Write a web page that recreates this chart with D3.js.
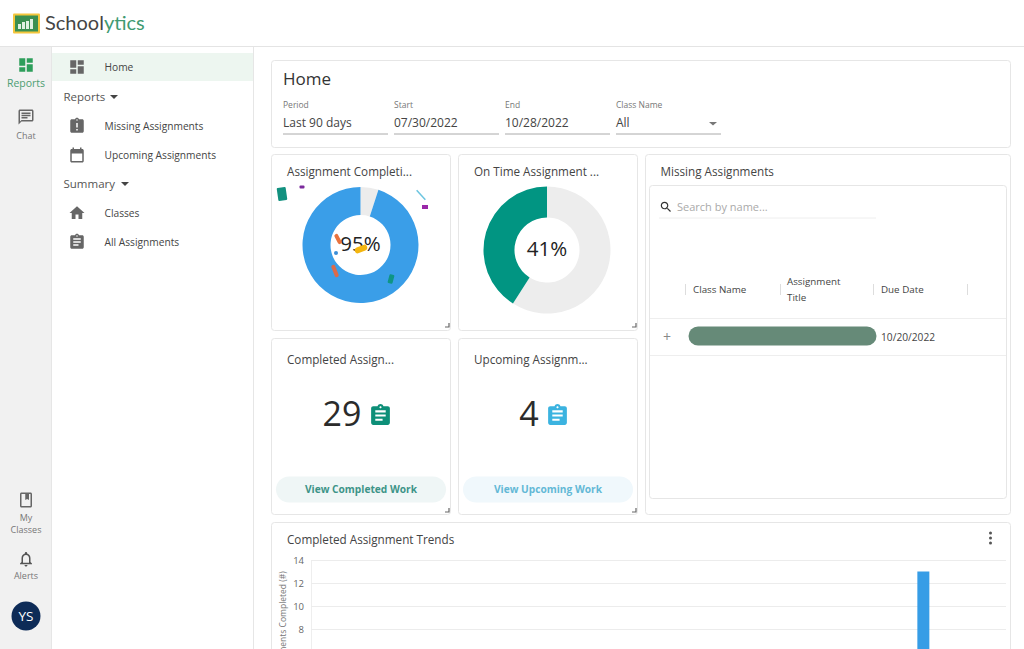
<!DOCTYPE html>
<html>
<head>
<meta charset="utf-8">
<script src="https://cdn.jsdelivr.net/npm/d3@7"></script>
<style>
  html, body { margin: 0; padding: 0; background: #fff; overflow: hidden; }
  svg { display: block; font-family: "Open Sans", "Noto Sans", sans-serif; }
</style>
</head>
<body>
<div id="chart"></div>
<script>
// Chart values
var completionLabels = ["Completed", "Not completed"];
var completionValues = [95, 5];
var onTimeLabels = ["Not on time", "On time"];
var onTimeValues = [59, 41];
var completedCount = 29;
var upcomingCount = 4;
var trendDates = ["2022-10-21"];
var trendValues = [13];
var trendTicks = [0, 2, 4, 6, 8, 10, 12, 14];

// Page text
var railTop = ["Reports", "Chat"];
var menuItems = ["Home", "Missing Assignments", "Upcoming Assignments", "Classes", "All Assignments"];
var menuHeads = ["Reports", "Summary"];
var filterLabels = ["Period", "Start", "End", "Class Name"];
var filterValues = ["Last 90 days", "07/30/2022", "10/28/2022", "All"];
var tableHeads = ["Class Name", "Due Date"];

var icons = {
  dash: "M3 3h8v10H3zM3 15h8v6H3zM13 11h8v10h-8zM13 3h8v6h-8z",
  chat: "M20 2H4c-1.1 0-2 .9-2 2v18l4-4h14c1.1 0 2-.9 2-2V4c0-1.1-.9-2-2-2zm0 14H6l-2 2V4h16v12zM6 12h8v2H6zm0-3h12v2H6zm0-3h12v2H6z",
  late: "M19 3h-4.18C14.4 1.84 13.3 1 12 1c-1.3 0-2.4.84-2.82 2H5c-1.1 0-2 .9-2 2v14c0 1.1.9 2 2 2h14c1.1 0 2-.9 2-2V5c0-1.1-.9-2-2-2zm-6 15h-2v-2h2v2zm0-4h-2V8h2v6zm-1-9c-.55 0-1-.45-1-1s.45-1 1-1 1 .45 1 1-.45 1-1 1z",
  cal: "M19 4h-1V2h-2v2H8V2H6v2H5c-1.11 0-2 .9-2 2v14c0 1.1.89 2 2 2h14c1.1 0 2-.9 2-2V6c0-1.1-.9-2-2-2zm0 16H5V10h14v10z",
  home: "M10 20v-6h4v6h5v-8h3L12 3 2 12h3v8z",
  clip: "M19 3h-4.18C14.4 1.84 13.3 1 12 1c-1.3 0-2.4.84-2.82 2H5c-1.1 0-2 .9-2 2v14c0 1.1.9 2 2 2h14c1.1 0 2-.9 2-2V5c0-1.1-.9-2-2-2zm-7 0c.55 0 1 .45 1 1s-.45 1-1 1-1-.45-1-1 .45-1 1-1zm2 14H7v-2h7v2zm3-4H7v-2h10v2zm0-4H7V7h10v2z",
  bell: "M12 22c1.1 0 2-.9 2-2h-4c0 1.1.89 2 2 2zm6-6v-5c0-3.07-1.64-5.64-4.5-6.32V4c0-.83-.67-1.5-1.5-1.5s-1.5.67-1.5 1.5v.68C7.63 5.36 6 7.92 6 11v5l-2 2v1h16v-1l-2-2zm-2 1H8v-6c0-2.48 1.51-4.5 4-4.5s4 2.02 4 4.5v6z",
  book: "M6 2h12c1.1 0 2 .9 2 2v16c0 1.1-.9 2-2 2H6c-1.1 0-2-.9-2-2V4c0-1.1.9-2 2-2zm0 2v16h12V4h-2v8l-2.5-1.5L11 12V4H6z",
  search: "M15.5 14h-.79l-.28-.27C15.41 12.59 16 11.11 16 9.5 16 5.91 13.09 3 9.5 3S3 5.91 3 9.5 5.91 16 9.5 16c1.61 0 3.09-.59 4.23-1.57l.27.28v.79l5 4.99L20.49 19l-4.99-5zm-6 0C7.01 14 5 11.99 5 9.5S7.01 5 9.5 5 14 7.01 14 9.5 11.99 14 9.5 14z"
};

var svg = d3.select("#chart")
  .append("svg")
  .attr("width", 1024)
  .attr("height", 649);

function label(x, y, str, size, fill, anchor, weight) {
  return svg.append("text")
    .attr("x", x)
    .attr("y", y)
    .attr("font-size", size)
    .attr("fill", fill)
    .attr("text-anchor", anchor || "start")
    .attr("font-weight", weight || 400)
    .text(str);
}

function icon(name, x, y, size, fill) {
  svg.append("path")
    .attr("d", icons[name])
    .attr("transform", `translate(${x}, ${y}) scale(${size / 24})`)
    .attr("fill", fill);
}

function box(x, y, w, h, r, fill, stroke) {
  return svg.append("rect")
    .attr("x", x + .5)
    .attr("y", y + .5)
    .attr("width", w)
    .attr("height", h)
    .attr("rx", r)
    .attr("fill", fill)
    .attr("stroke", stroke || "none");
}

function rule(x1, y1, x2, y2, color) {
  svg.append("line")
    .attr("x1", x1).attr("y1", y1)
    .attr("x2", x2).attr("y2", y2)
    .attr("stroke", color);
}

function handle(x, y) {
  svg.append("path")
    .attr("d", `M${x} ${y - 4}V${y}H${x - 4}`)
    .attr("fill", "none")
    .attr("stroke", "#666")
    .attr("stroke-width", 1.2);
}

// Header
rule(0, 46.5, 1024, 46.5, "#e4e4e4");
box(12.5, 13, 27, 20, 1, "#f4c63d");
box(14.5, 15, 23, 16, 0, "#3a8f50");
[[18, 24, 3, 5], [22, 22, 3, 7], [26, 21, 3, 8], [30, 19, 3, 10]].forEach(function(b) {
  svg.append("rect").attr("x", b[0]).attr("y", b[1]).attr("width", b[2]).attr("height", b[3]).attr("fill", "#dff0e2");
});
var logo = label(45, 30, "Schoo", 20, "#454545").attr("font-family", "Lato");
logo.append("tspan").text("l");
logo.append("tspan").attr("fill", "#3f9a72").text("ytics");

// Left rail
svg.append("rect").attr("x", 0).attr("y", 47).attr("width", 51).attr("height", 602).attr("fill", "#f1f1f1");
rule(51.5, 47, 51.5, 649, "#e6e6e6");
rule(253.5, 47, 253.5, 649, "#e6e6e6");
icon("dash", 17, 56, 18, "#2e9e5b");
label(26, 87, railTop[0], 10.5, "#4d9e72", "middle");
icon("chat", 17, 108, 18, "#666");
label(26, 139, railTop[1], 9, "#777", "middle");
icon("book", 17, 491, 18, "#666");
label(26, 521, "My", 9, "#777", "middle");
label(26, 533, "Classes", 9, "#777", "middle");
icon("bell", 17, 550, 18, "#555");
label(26, 579, "Alerts", 9, "#777", "middle");
svg.append("circle").attr("cx", 26).attr("cy", 616).attr("r", 14.5).attr("fill", "#0d2b57");
label(26, 621, "YS", 13.5, "#fff", "middle");

// Menu
svg.append("rect").attr("x", 52).attr("y", 53).attr("width", 201).attr("height", 28).attr("fill", "#edf6f0");
var menuY = [71, 130, 159, 217, 246];
var menuIcons = ["dash", "late", "cal", "home", "clip"];
menuItems.forEach(function(d, i) {
  icon(menuIcons[i], 68, menuY[i] - 13, 18, "#666");
  label(104.5, menuY[i], d, 10.2, "#444");
});
var headY = [101, 188];
var headX = [110, 121];
menuHeads.forEach(function(d, i) {
  label(63.5, headY[i], d, 11.5, "#555");
  svg.append("path")
    .attr("d", `M${headX[i]} ${headY[i] - 6}h8l-4 4z`)
    .attr("fill", "#444");
});

// Panels
var line = "#e6e6e6";
box(271, 60, 739, 87, 3, "#fff", line);
box(271, 154, 179, 176, 3, "#fff", line);
box(458, 154, 179, 176, 3, "#fff", line);
box(645, 154, 365, 360, 3, "#fff", line);
box(271, 338, 179, 176, 3, "#fff", line);
box(458, 338, 179, 176, 3, "#fff", line);
box(271, 522, 739, 140, 3, "#fff", line);
handle(449, 327);
handle(636, 327);
handle(449, 512);
handle(636, 512);

// Filters
label(283, 85, "Home", 17, "#333");
var filterX = [283, 394, 505, 616];
filterLabels.forEach(function(d, i) {
  label(filterX[i], 108, d, 8.5, "#777");
  label(filterX[i], 127, filterValues[i], 12, "#444");
  rule(filterX[i], 134, filterX[i] + 105, 134, "#aaa");
});
svg.append("path").attr("d", "M709 122h8l-4 3.5z").attr("fill", "#777");

// Donuts
function donut(cx, cy, outer, inner, values, colors, text, ty) {
  var pie = d3.pie().sort(null);
  var arc = d3.arc().innerRadius(inner).outerRadius(outer);
  svg.append("g")
    .attr("transform", `translate(${cx}, ${cy})`)
    .selectAll("path")
    .data(pie(values))
    .enter()
    .append("path")
    .attr("d", arc)
    .attr("fill", function(d, i) { return colors[i]; });
  label(cx, ty, text, 20.5, "#222", "middle");
}

label(287, 176, "Assignment Completi...", 11.7, "#444");
label(474, 176, "On Time Assignment ...", 11.7, "#444");
// gray slice comes first so the blue runs round from its end
donut(360.5, 245, 58, 30, [completionValues[1], completionValues[0]], ["#ececec", "#3a9ee8"], completionValues[0] + "%", 251);
donut(547, 250, 63.5, 32.5, onTimeValues, ["#ededed", "#019582"], onTimeValues[1] + "%", 256);

// Confetti over the completion donut
var confetti = [
  [282, 194, 9, 13, -8, "#12917f", 1],
  [302, 187, 5, 3, 0, "#7b2a9c", 1],
  [421, 195, 1.5, 13, -42, "#6cc5e0", 0],
  [425, 207, 6, 4, 0, "#9a28a8", 0],
  [338, 239, 4, 11, -28, "#e8733e", 2],
  [336, 253, 4, 4, 0, "#3a8ed8", 2],
  [361, 249, 13, 6, -22, "#f4b60f", 3],
  [335, 271, 4, 13, -22, "#dc6a4a", 2],
  [391, 279, 5, 9, 15, "#0e9584", 1]
];
confetti.forEach(function(c) {
  svg.append("rect")
    .attr("x", -c[2] / 2)
    .attr("y", -c[3] / 2)
    .attr("width", c[2])
    .attr("height", c[3])
    .attr("rx", c[6])
    .attr("transform", `translate(${c[0]}, ${c[1]}) rotate(${c[4]})`)
    .attr("fill", c[5]);
});

// Count cards
label(287, 364, "Completed Assign...", 11.7, "#444");
label(474, 364, "Upcoming Assignm...", 11.7, "#444");
label(342, 426, completedCount, 34, "#2b2b2b", "middle");
label(529, 426, upcomingCount, 34, "#2b2b2b", "middle");
icon("clip", 368, 403, 25, "#0d8f78");
icon("clip", 545, 403, 25, "#3bb3e0");
box(275.5, 476, 170, 26, 13, "#eff6f6");
box(462.5, 476, 170, 26, 13, "#f0f8fc");
label(361, 493, "View Completed Work", 10.2, "#3d9488", "middle", 700);
label(548, 493, "View Upcoming Work", 10.2, "#63b8d6", "middle", 700);

// Missing assignments table
label(660.5, 176, "Missing Assignments", 11.7, "#444");
box(649, 185, 357, 313, 3, "#fff", line);
icon("search", 659, 200, 14, "#333");
label(677, 211, "Search by name...", 11, "#aaa");
rule(659, 218, 876, 218, "#eee");
[685, 780, 873, 967].forEach(function(x) { rule(x + .5, 284, x + .5, 295, "#ddd"); });
label(693, 293, tableHeads[0], 9.8, "#444");
label(787, 285, "Assignment", 9.8, "#444");
label(787, 301, "Title", 9.8, "#444");
label(881, 293, tableHeads[1], 9.8, "#444");
rule(650, 318.5, 1006, 318.5, "#eee");
rule(650, 355.5, 1006, 355.5, "#eee");
label(667, 342, "+", 14, "#888", "middle");
box(688, 326, 188, 19, 9.5, "#668a78");
label(881, 341, "10/20/2022", 10.2, "#444");

// Trends bar chart
label(287, 544, "Completed Assignment Trends", 11.7, "#444");
[533, 538, 543].forEach(function(y) {
  svg.append("circle").attr("cx", 990.5).attr("cy", y).attr("r", 1.5).attr("fill", "#555");
});

var yScale = d3.scaleLinear()
  .domain([0, 14])
  .range([721, 560]);

var xScale = d3.scaleTime()
  .domain([new Date("2022-07-30"), new Date("2022-10-28")])
  .range([311, 975]);

var leftAxis = d3.axisLeft(yScale)
  .tickValues(trendTicks)
  .tickSize(-695)
  .tickPadding(7);

var yAxis = svg.append("g")
  .attr("transform", "translate(311, 0)")
  .call(leftAxis);
yAxis.select(".domain").attr("stroke", "#eee");
yAxis.selectAll(".tick line").attr("stroke", "#ececec");
yAxis.selectAll(".tick text")
  .attr("fill", "#666")
  .attr("font-size", 9.5)
  .attr("font-family", "\"Open Sans\"");

svg.append("g")
  .selectAll("rect")
  .data(trendDates)
  .enter()
  .append("rect")
  .attr("x", function(d) { return xScale(new Date(d)) - 6; })
  .attr("y", function(d, i) { return yScale(trendValues[i]); })
  .attr("width", 12)
  .attr("height", function(d, i) { return yScale(0) - yScale(trendValues[i]); })
  .attr("fill", "#369de6");

svg.append("text")
  .attr("transform", "translate(286, 647) rotate(-90)")
  .attr("font-size", 8.5)
  .attr("fill", "#777")
  .text("Assignments Completed (#)")
  .attr("text-anchor", "start")
  .attr("dx", -33);
</script>
</body>
</html>
